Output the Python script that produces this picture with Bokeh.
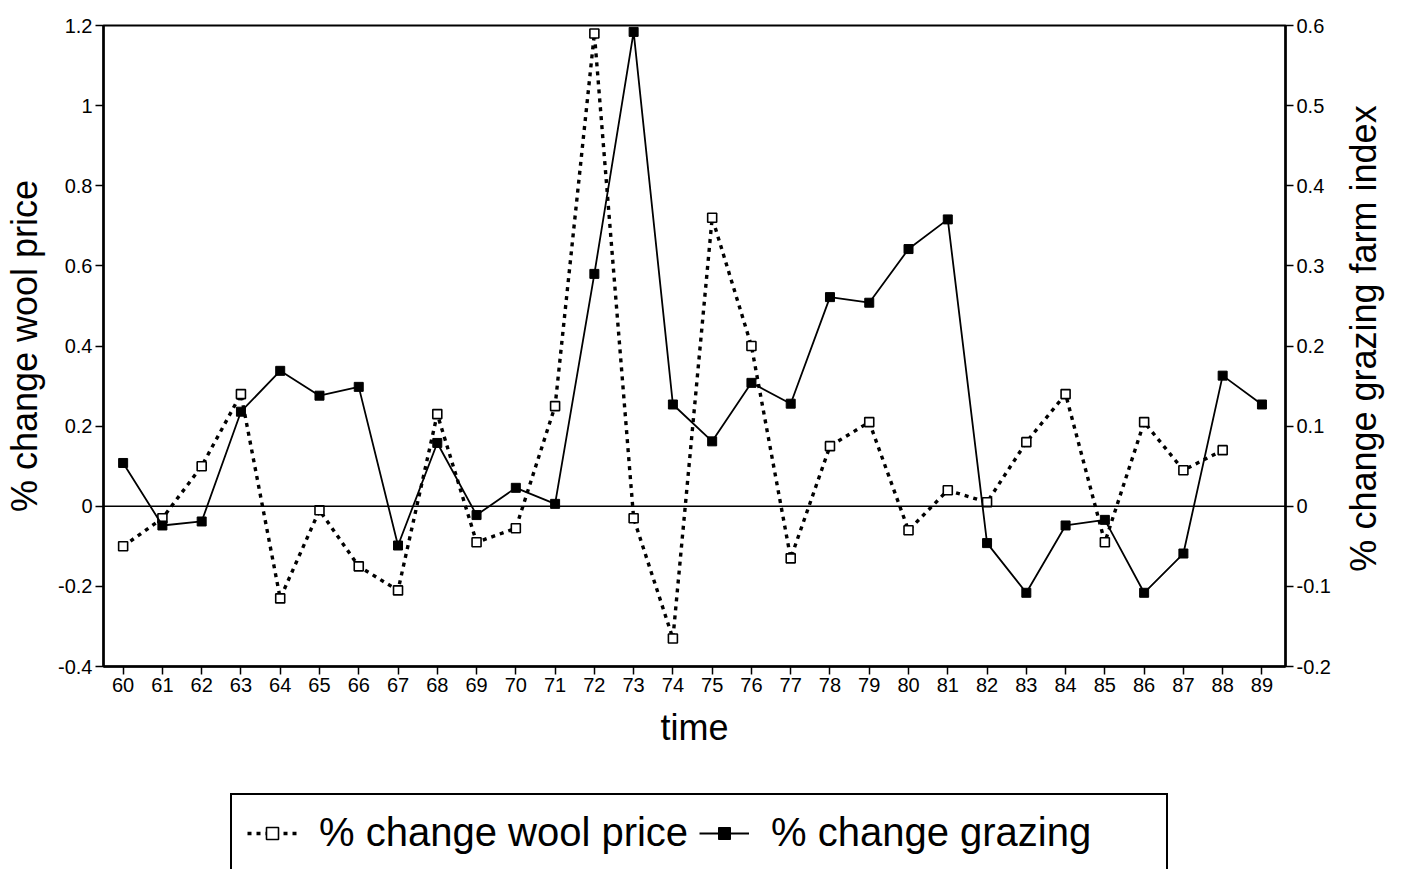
import math
from bokeh.plotting import figure
from bokeh.layouts import column, row
from bokeh.models import (Range1d, LinearAxis, FixedTicker, CustomJSTickFormatter,
                          Span, Legend, LegendItem, ColumnDataSource, Label)
from bokeh.embed import file_html
from bokeh.resources import INLINE

# ---- data ----
years = list(range(60, 90))
wool_price_change = [-0.10, -0.03, 0.10, 0.28, -0.23, -0.01, -0.15, -0.21, 0.23, -0.09,
                     -0.055, 0.25, 1.18, -0.03, -0.33, 0.72, 0.40, -0.13, 0.15, 0.21,
                     -0.06, 0.04, 0.01, 0.16, 0.28, -0.09, 0.21, 0.09, 0.14]
wool_years = years[:len(wool_price_change)]
grazing_change = [0.054, -0.024, -0.019, 0.118, 0.169, 0.138, 0.149, -0.049, 0.079, -0.011,
                  0.023, 0.003, 0.29, 0.592, 0.127, 0.081, 0.154, 0.128, 0.261, 0.254,
                  0.321, 0.358, -0.046, -0.108, -0.024, -0.017, -0.108, -0.059, 0.163, 0.127]
left_ticks = [-0.4, -0.2, 0, 0.2, 0.4, 0.6, 0.8, 1, 1.2]
right_ticks = [-0.2, -0.1, 0, 0.1, 0.2, 0.3, 0.4, 0.5, 0.6]
series_labels = ["% change wool price", "% change grazing"]
right_title = "% change grazing farm index"

FONT = "Liberation Sans"

p = figure(width=1340, height=760, x_range=Range1d(59.5, 89.6), y_range=Range1d(-0.4, 1.2),
           output_backend="svg", toolbar_location=None,
           min_border_left=103, min_border_right=55, min_border_top=25, min_border_bottom=94)
p.extra_y_ranges = {"right": Range1d(-0.2, 0.6)}
p.grid.visible = False
p.outline_line_color = "black"
p.outline_line_width = 2
p.background_fill_color = "white"
p.border_fill_color = "white"

fmt = CustomJSTickFormatter(code="return String(tick);")

xa = p.xaxis[0]
xa.ticker = FixedTicker(ticks=years)
xa.formatter = fmt
xa.axis_label = "time"

ya = p.yaxis[0]
ya.ticker = FixedTicker(ticks=left_ticks)
ya.formatter = fmt
ya.axis_label = "% change wool price"

ra = LinearAxis(y_range_name="right", ticker=FixedTicker(ticks=right_ticks), formatter=fmt)
p.add_layout(ra, "right")

for ax in [xa, ya, ra]:
    ax.axis_line_width = 2.5
    ax.axis_line_color = "black"
    ax.major_tick_line_width = 1.5
    ax.major_tick_line_color = "black"
    ax.major_tick_out = 8
    ax.major_tick_in = 0
    ax.minor_tick_line_color = None
    ax.major_label_text_font = FONT
    ax.major_label_text_font_size = "20px"
    ax.major_label_text_color = "black"
    ax.axis_label_text_font = FONT
    ax.axis_label_text_font_size = "36px"
    ax.axis_label_text_font_style = "normal"
    ax.axis_label_text_color = "black"
xa.major_label_standoff = 3
ya.major_label_standoff = 3
ra.major_label_standoff = 3
xa.axis_label_standoff = 12
ya.axis_label_standoff = 10

p.add_layout(Span(location=0, dimension="width", line_color="black", line_width=1.3))

wsrc = ColumnDataSource(dict(x=wool_years, y=wool_price_change))
gsrc = ColumnDataSource(dict(x=years, y=grazing_change))

WOOL_LINE = dict(line_color="black", line_width=3.4, line_dash="4 5")
WOOL_MARK = dict(marker="square", size=9, fill_color="white", line_color="black", line_width=1.6)
GRAZ_LINE = dict(line_color="black", line_width=1.8)
GRAZ_MARK = dict(marker="square", size=9, fill_color="black", line_color="black")

p.line("x", "y", source=wsrc, **WOOL_LINE)
p.scatter("x", "y", source=wsrc, **WOOL_MARK)
p.line("x", "y", source=gsrc, y_range_name="right", **GRAZ_LINE)
p.scatter("x", "y", source=gsrc, y_range_name="right", **GRAZ_MARK)

# ---- right-hand axis title (reads bottom to top) ----
q = figure(width=63, height=760, x_range=Range1d(0, 1), y_range=Range1d(0, 1),
           output_backend="svg", toolbar_location=None, x_axis_type=None, y_axis_type=None,
           min_border_left=0, min_border_right=0, min_border_top=25, min_border_bottom=94)
q.grid.visible = False
q.outline_line_color = None
q.background_fill_color = "white"
q.border_fill_color = "white"
q.add_layout(Label(x=23, y=328, x_units="screen", y_units="screen", text=right_title,
                   angle=math.pi / 2, text_align="center", text_baseline="middle",
                   text_font=FONT, text_font_size="36px", text_color="black"))

# ---- legend strip below ----
p2 = figure(width=1403, height=109, x_range=Range1d(0, 1), y_range=Range1d(0, 1),
            output_backend="svg", toolbar_location=None,
            x_axis_type=None, y_axis_type=None,
            min_border_left=103, min_border_right=0, min_border_top=0, min_border_bottom=0)
p2.grid.visible = False
p2.outline_line_color = None
p2.background_fill_color = "white"
p2.border_fill_color = "white"
# legend proxies reuse the real data; the strip's ranges keep them out of view
l1 = p2.line("x", "y", source=wsrc, **WOOL_LINE)
m1 = p2.scatter("x", "y", source=wsrc, **WOOL_MARK)
l2 = p2.line("x", "y", source=gsrc, **GRAZ_LINE)
m2 = p2.scatter("x", "y", source=gsrc, **GRAZ_MARK)

legend = Legend(items=[LegendItem(label=series_labels[0], renderers=[l1, m1]),
                       LegendItem(label=series_labels[1], renderers=[l2, m2])],
                orientation="horizontal", location=(127, -3))
legend.label_text_font = FONT
legend.label_text_font_size = "40px"
legend.label_text_color = "black"
legend.glyph_width = 50
legend.glyph_height = 30
legend.label_standoff = 22
legend.label_width = 380
legend.spacing = 0
legend.padding = 15
legend.margin = 0
legend.border_line_color = "black"
legend.border_line_width = 2
legend.border_line_alpha = 1
legend.background_fill_color = "white"
legend.background_fill_alpha = 1
p2.add_layout(legend)

open("out.html", "w").write(file_html(column(row(p, q), p2), INLINE))
